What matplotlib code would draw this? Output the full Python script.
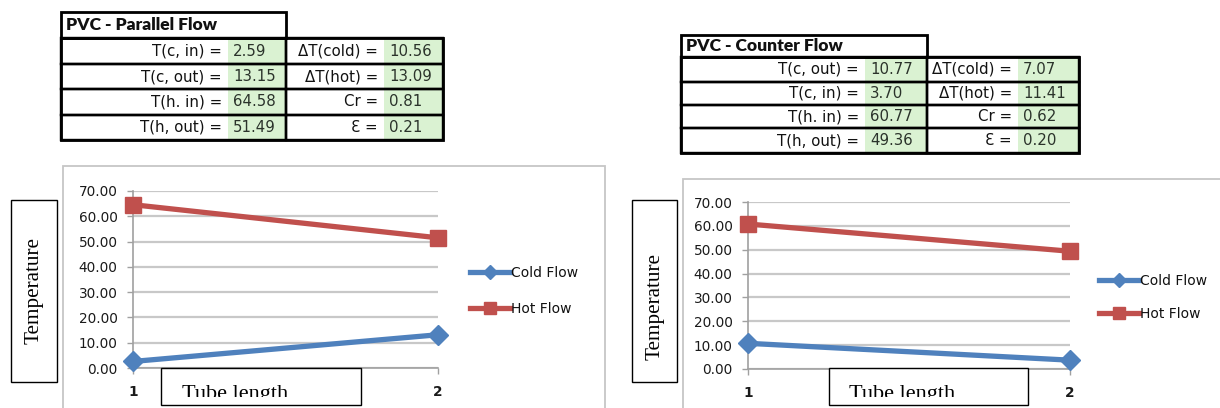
import matplotlib
matplotlib.use("Agg")
import matplotlib.pyplot as plt
from matplotlib.patches import Rectangle
from matplotlib.ticker import FormatStrFormatter

# ---------------- data ----------------
tube_positions = [1, 2]
tube_labels = ["1", "2"]
y_ticks = [0, 10, 20, 30, 40, 50, 60, 70]

parallel_cold = [2.59, 13.15]
parallel_hot = [64.58, 51.49]
counter_cold = [10.77, 3.70]
counter_hot = [60.77, 49.36]

series_names = ["Cold Flow", "Hot Flow"]

parallel_title = "PVC - Parallel Flow"
parallel_left_labels = ["T(c, in) =", "T(c, out) =", "T(h. in) =", "T(h, out) ="]
parallel_left_values = [2.59, 13.15, 64.58, 51.49]
parallel_right_labels = ["ΔT(cold) =", "ΔT(hot) =", "Cr =", "Ɛ ="]
parallel_right_values = [10.56, 13.09, 0.81, 0.21]

counter_title = "PVC - Counter Flow"
counter_left_labels = ["T(c, out) =", "T(c, in) =", "T(h. in) =", "T(h, out) ="]
counter_left_values = [10.77, 3.70, 60.77, 49.36]
counter_right_labels = ["ΔT(cold) =", "ΔT(hot) =", "Cr =", "Ɛ ="]
counter_right_values = [7.07, 11.41, 0.62, 0.20]

y_axis_title = "Temperature"
x_axis_title = "Tube length"

# ---------------- style ----------------
BLUE = "#4F81BD"
RED = "#C0504D"
GREEN = "#DAF2D2"
AXIS = "#A0A0A0"
GRID = "#C8C8C8"
SANS = ["DejaVu Sans"]
TITLE_FONT = ["Lato", "DejaVu Sans"]
SERIF = ["Liberation Serif", "DejaVu Serif"]

W, H = 1220, 408
fig = plt.figure(figsize=(W / 100, H / 100), dpi=100)
fig.patch.set_facecolor("white")
PT = 72 / 100  # points per pixel


def fx(x):
    return x / W


def fy(y):
    return 1 - y / H


def add_rect(x0, y0, x1, y1, z=1, **kw):
    r = Rectangle((fx(x0), fy(y1)), (x1 - x0) / W, (y1 - y0) / H,
                  transform=fig.transFigure, zorder=z, **kw)
    fig.add_artist(r)
    return r


def draw_table(title, llabels, lvals, rlabels, rvals, xs, y_top, rows):
    x0, xg1, xm, xg2, x1 = xs
    n = len(llabels)
    fs = 10.8
    for i in range(n):
        ya, yb = rows[i], rows[i + 1]
        add_rect(xg1, ya, xm, yb, z=2, facecolor=GREEN, edgecolor="none")
        add_rect(xg2, ya, x1, yb, z=2, facecolor=GREEN, edgecolor="none")
        add_rect(x0, ya, xm, yb, z=3, facecolor="none", edgecolor="black", lw=2.4 * PT)
        add_rect(xm, ya, x1, yb, z=3, facecolor="none", edgecolor="black", lw=2.4 * PT)
        yc = (ya + yb) / 2
        fig.text(fx(xg1 - 6), fy(yc), llabels[i], ha="right", va="center",
                 fontsize=fs, family=SANS, color="#111111", zorder=4)
        fig.text(fx(xg1 + 5), fy(yc), f"{lvals[i]:.2f}", ha="left", va="center",
                 fontsize=fs, family=SANS, color="#2b332b", zorder=4)
        fig.text(fx(xg2 - 6), fy(yc), rlabels[i], ha="right", va="center",
                 fontsize=fs, family=SANS, color="#111111", zorder=4)
        fig.text(fx(xg2 + 5), fy(yc), f"{rvals[i]:.2f}", ha="left", va="center",
                 fontsize=fs, family=SANS, color="#2b332b", zorder=4)
    add_rect(x0, y_top, xm, rows[0], z=3, facecolor="none", edgecolor="black", lw=2.8 * PT)
    add_rect(x0, rows[0], x1, rows[-1], z=3, facecolor="none", edgecolor="black", lw=2.8 * PT)
    fig.text(fx(x0 + 5), fy((y_top + rows[0]) / 2), title, ha="left", va="center",
             fontsize=12.6, family=TITLE_FONT, weight="heavy", color="#111111", zorder=4)


def draw_chart(box, border, cold, hot, legend_xy, labelspacing, tbox, lbox, tpos, lpos):
    x0, ytop, x1, ybot = box
    add_rect(*border, z=-2, facecolor="white", edgecolor="#C6C6C6", lw=1.8 * PT)
    ax = fig.add_axes([fx(x0), fy(ybot), (x1 - x0) / W, (ybot - ytop) / H])
    ax.set_facecolor("none")
    ax.plot(tube_positions, cold, color=BLUE, lw=3.8, marker="D", ms=10,
            clip_on=False, label=series_names[0], zorder=3)
    ax.plot(tube_positions, hot, color=RED, lw=3.8, marker="s", ms=12,
            clip_on=False, label=series_names[1], zorder=4)
    ax.set_xlim(1, 2)
    ax.set_ylim(0, 70)
    ax.set_yticks(y_ticks)
    ax.yaxis.set_major_formatter(FormatStrFormatter("%.2f"))
    ax.set_xticks(tube_positions)
    ax.set_xticklabels(tube_labels, fontweight="bold")
    ax.grid(axis="y", color=GRID, lw=1.6)
    ax.set_axisbelow(True)
    for s in ["top", "right"]:
        ax.spines[s].set_visible(False)
    ax.spines["left"].set_color(AXIS)
    ax.spines["bottom"].set_color(AXIS)
    ax.spines["left"].set_linewidth(1.2)
    ax.spines["bottom"].set_linewidth(1.2)
    ax.tick_params(axis="y", length=4, width=1, color=AXIS, pad=7,
                   labelsize=9.8, labelcolor="#1a1a1a")
    ax.tick_params(axis="x", length=4, width=1, color=AXIS, pad=8,
                   labelsize=9.8, labelcolor="#1a1a1a")
    for lab in ax.get_yticklabels() + ax.get_xticklabels():
        lab.set_family(SANS)
    leg = ax.legend(loc="center left", bbox_to_anchor=(fx(legend_xy[0]), fy(legend_xy[1])),
                    bbox_transform=fig.transFigure, frameon=False, borderpad=0,
                    borderaxespad=0, handlelength=2.9, handletextpad=0.05,
                    labelspacing=labelspacing, markerscale=0.75,
                    prop={"family": SANS, "size": 10})
    for t in leg.get_texts():
        t.set_color("#111111")
    # y-axis title box
    add_rect(*tbox, z=5, facecolor="white", edgecolor="black", lw=1.4 * PT)
    fig.text(fx(tpos[0]), fy(tpos[1]), y_axis_title, rotation=90, ha="center", va="center",
             fontsize=15.2, family=SERIF, color="black", zorder=6)
    # x-axis title box (text is cut off by the box's inner margin)
    bx0, by0, bx1, by1 = lbox
    add_rect(bx0, by0, bx1, by1, z=5, facecolor="white", edgecolor="none")
    fig.text(fx(lpos[0]), fy(lpos[1]), x_axis_title, ha="left", va="baseline",
             fontsize=16, family=SERIF, color="black", zorder=6)
    add_rect(bx0 + 1, by1 - 8, bx1 - 1, by1, z=6.5, facecolor="white", edgecolor="none")
    add_rect(bx0, by0, bx1, by1, z=7, facecolor="none", edgecolor="black", lw=1.4 * PT)
    return ax


# ---------------- tables ----------------
draw_table(parallel_title, parallel_left_labels, parallel_left_values,
           parallel_right_labels, parallel_right_values,
           (61, 228, 286, 384, 443), 12, [38, 64, 89, 115, 140])
draw_table(counter_title, counter_left_labels, counter_left_values,
           counter_right_labels, counter_right_values,
           (681, 865, 927, 1018, 1079), 35, [57, 82, 105, 128, 153])

# ---------------- charts ----------------
draw_chart((133, 191, 438, 368), (63, 166, 605, 430), parallel_cold, parallel_hot,
           (470, 291), 1.55, (11, 200, 57, 382), (161, 368, 361, 405),
           (34, 291), (182, 399))
draw_chart((748, 202, 1070, 369), (683, 179, 1240, 430), counter_cold, counter_hot,
           (1099, 297.5), 1.35, (632, 200, 677, 382), (829, 368, 1028, 405),
           (655, 306), (849, 399))

fig.savefig("out.png", dpi=100)
